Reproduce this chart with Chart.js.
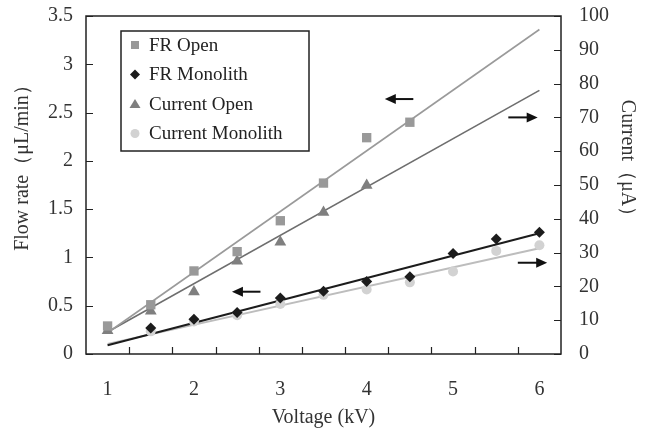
<!DOCTYPE html>
<html>
<head>
<meta charset="utf-8">
<script src="https://cdn.jsdelivr.net/npm/chart.js@4.4.1/dist/chart.umd.min.js"></script>
<style>
  html, body { margin: 0; padding: 0; background: #fff; }
  #wrap { width: 645px; height: 432px; }
</style>
</head>
<body>
<div id="wrap"><canvas id="flow-Chart"></canvas></div>
<script>
// voltage steps (kV)
const voltage = [1, 1.5, 2, 2.5, 3, 3.5, 4, 4.5, 5, 5.5, 6];
// flow rate, µL/min (left axis)
const frOpen = [0.29, 0.51, 0.86, 1.06, 1.38, 1.77, 2.24, 2.40, null, null, null];
const frMonolith = [null, 0.27, 0.36, 0.43, 0.58, 0.65, 0.75, 0.80, 1.04, 1.19, 1.26];
// current, µA (right axis)
const currentOpen = [6.9, 12.7, 18.4, 27.5, 33.1, 41.9, 49.9, null, null, null, null];
const currentMonolith = [null, 6.7, 9.6, 11.5, 14.8, 17.5, 19.1, 21.2, 24.4, 30.5, 32.2];
// fitted lines, value at 1 kV and 6 kV
const fitX = [1, 6];
const frOpenFit = [0.22, 3.36];
const frMonolithFit = [0.09, 1.25];
const currentOpenFit = [6.5, 78];
const currentMonolithFit = [3.0, 31.3];
// tick labels
const xTicks = [1, 2, 3, 4, 5, 6];
const flowTicks = [0, 0.5, 1, 1.5, 2, 2.5, 3, 3.5];
const currentTicks = [0, 10, 20, 30, 40, 50, 60, 70, 80, 90, 100];

const pts = (xs, ys) => xs.map((x, i) => ({ x: x, y: ys[i] })).filter(p => p.y !== null);

const FONT = "'Liberation Serif', 'DejaVu Serif', serif";
const TXT = "#333";

// frame, inward ticks, arrows, legend, side titles
const decor = {
  id: "decor",
  afterDraw(chart) {
    const ctx = chart.ctx;
    const a = chart.chartArea;
    const sx = chart.scales.x, sy = chart.scales.y, sy2 = chart.scales.y2;
    ctx.save();
    ctx.strokeStyle = "#222";
    ctx.lineWidth = 1.5;
    ctx.strokeRect(a.left, a.top, a.right - a.left, a.bottom - a.top);
    ctx.lineWidth = 1.2;
    ctx.beginPath();
    flowTicks.forEach(v => {
      const y = Math.round(sy.getPixelForValue(v)) + 0.5;
      ctx.moveTo(a.left, y); ctx.lineTo(a.left + 7, y);
    });
    currentTicks.forEach(v => {
      const y = Math.round(sy2.getPixelForValue(v)) + 0.5;
      ctx.moveTo(a.right, y); ctx.lineTo(a.right - 7, y);
    });
    for (let v = sx.min + 0.5; v < sx.max; v += 0.5) {
      const x = Math.round(sx.getPixelForValue(v)) + 0.5;
      ctx.moveTo(x, a.bottom); ctx.lineTo(x, a.bottom - 7);
    }
    ctx.stroke();

    // arrows pointing to the axis of each series
    const arrows = [
      { x0: 4.54, x1: 4.21, y: 2.64, s: sy },
      { x0: 5.64, x1: 5.98, y: 70, s: sy2 },
      { x0: 2.77, x1: 2.44, y: 0.645, s: sy },
      { x0: 5.75, x1: 6.09, y: 27, s: sy2 }
    ];
    ctx.fillStyle = "#111";
    ctx.strokeStyle = "#111";
    ctx.lineWidth = 2;
    arrows.forEach(ar => {
      const p0 = sx.getPixelForValue(ar.x0), p1 = sx.getPixelForValue(ar.x1);
      const y = ar.s.getPixelForValue(ar.y);
      const dir = p1 > p0 ? 1 : -1;
      ctx.beginPath();
      ctx.moveTo(p0, y); ctx.lineTo(p1 - dir * 8, y);
      ctx.stroke();
      ctx.beginPath();
      ctx.moveTo(p1, y);
      ctx.lineTo(p1 - dir * 11, y - 5);
      ctx.lineTo(p1 - dir * 11, y + 5);
      ctx.closePath();
      ctx.fill();
    });

    // side axis titles, sitting a bit above the middle like the original
    ctx.fillStyle = TXT;
    ctx.font = "20px " + FONT;
    ctx.textAlign = "center";
    ctx.textBaseline = "middle";
    ctx.save();
    ctx.translate(23, 163);
    ctx.rotate(-Math.PI / 2);
    ctx.fillText("Flow rate（μL/min）", 0, 0);
    ctx.restore();
    ctx.save();
    ctx.translate(627, 163);
    ctx.rotate(Math.PI / 2);
    ctx.fillText("Current（μA）", 0, 0);
    ctx.restore();

    // legend box
    const lx = 121, ly = 31, lw = 188, lh = 120;
    ctx.lineWidth = 1.5;
    ctx.strokeStyle = "#222";
    ctx.strokeRect(lx, ly, lw, lh);
    ctx.font = "19px " + FONT;
    ctx.textAlign = "left";
    chart.data.datasets.filter(d => !d.isFit).forEach((d, i) => {
      const cy = ly + 14 + i * 29.5;
      const cx = lx + 14;
      ctx.fillStyle = d.backgroundColor;
      ctx.beginPath();
      if (d.pointStyle === "rect") {
        ctx.rect(cx - 4, cy - 4, 8, 8);
      } else if (d.pointStyle === "rectRot") {
        ctx.moveTo(cx, cy - 5); ctx.lineTo(cx + 5, cy); ctx.lineTo(cx, cy + 5); ctx.lineTo(cx - 5, cy);
        ctx.closePath();
      } else if (d.pointStyle === "triangle") {
        ctx.moveTo(cx, cy - 5); ctx.lineTo(cx + 5.5, cy + 4); ctx.lineTo(cx - 5.5, cy + 4);
        ctx.closePath();
      } else {
        ctx.arc(cx, cy, 4.5, 0, Math.PI * 2);
      }
      ctx.fill();
      ctx.fillStyle = "#222";
      ctx.fillText(d.label, lx + 28, cy + 1);
    });
    ctx.restore();
  }
};

document.addEventListener("DOMContentLoaded", () => {
  const ctx = document.getElementById("flow-Chart");
  if (!ctx) {
    console.error("Canvas element not found");
    return;
  }
  new Chart(ctx, {
    type: "scatter",
    data: {
      datasets: [
        { label: "FR Open", data: pts(voltage, frOpen), yAxisID: "y", pointStyle: "rect",
          pointRadius: 6.6, backgroundColor: "#999999", borderWidth: 0, order: 1 },
        { label: "FR Monolith", data: pts(voltage, frMonolith), yAxisID: "y", pointStyle: "rectRot",
          pointRadius: 5.5, backgroundColor: "#1c1c1c", borderWidth: 0, order: 1 },
        { label: "Current Open", data: pts(voltage, currentOpen), yAxisID: "y2", pointStyle: "triangle",
          pointRadius: 6.8, backgroundColor: "#7f7f7f", borderWidth: 0, order: 1 },
        { label: "Current Monolith", data: pts(voltage, currentMonolith), yAxisID: "y2", pointStyle: "circle",
          pointRadius: 5, backgroundColor: "#d2d2d2", borderWidth: 0, order: 1 },
        { isFit: true, type: "line", data: pts(fitX, frOpenFit), yAxisID: "y",
          borderColor: "#9a9a9a", borderWidth: 1.6, pointRadius: 0, order: 2 },
        { isFit: true, type: "line", data: pts(fitX, frMonolithFit), yAxisID: "y",
          borderColor: "#1c1c1c", borderWidth: 2, pointRadius: 0, order: 2 },
        { isFit: true, type: "line", data: pts(fitX, currentOpenFit), yAxisID: "y2",
          borderColor: "#6e6e6e", borderWidth: 1.6, pointRadius: 0, order: 2 },
        { isFit: true, type: "line", data: pts(fitX, currentMonolithFit), yAxisID: "y2",
          borderColor: "#bdbdbd", borderWidth: 2, pointRadius: 0, order: 2 }
      ]
    },
    options: {
      responsive: true,
      maintainAspectRatio: false,
      animation: false,
      layout: { padding: { top: 16, left: 0, right: 0, bottom: 0 } },
      plugins: { legend: { display: false }, tooltip: { enabled: false } },
      scales: {
        x: {
          type: "linear", min: 0.75, max: 6.25,
          afterBuildTicks: s => { s.ticks = xTicks.map(v => ({ value: v })); },
          afterFit: s => { s.height = 78; s.paddingLeft = 0; s.paddingRight = 0; },
          grid: { display: false, drawTicks: false }, border: { display: false },
          ticks: { color: TXT, padding: 24, font: { family: FONT, size: 20 } },
          title: { display: true, text: "Voltage (kV)", color: TXT, padding: { bottom: 2 },
                   font: { family: FONT, size: 20 } }
        },
        y: {
          position: "left", min: 0, max: 3.5,
          afterBuildTicks: s => { s.ticks = flowTicks.map(v => ({ value: v })); },
          afterFit: s => { s.width = 86; s.paddingTop = 0; s.paddingBottom = 0; },
          grid: { display: false, drawTicks: false }, border: { display: false },
          ticks: { color: TXT, padding: 13, font: { family: FONT, size: 20 }, callback: v => String(v) },
          title: { display: false }
        },
        y2: {
          position: "right", min: 0, max: 100,
          afterBuildTicks: s => { s.ticks = currentTicks.map(v => ({ value: v })); },
          afterFit: s => { s.width = 84; s.paddingTop = 0; s.paddingBottom = 0; },
          grid: { display: false, drawTicks: false }, border: { display: false },
          ticks: { color: TXT, padding: 18, font: { family: FONT, size: 20 } },
          title: { display: false }
        }
      }
    },
    plugins: [decor]
  });
});
</script>
</body>
</html>
